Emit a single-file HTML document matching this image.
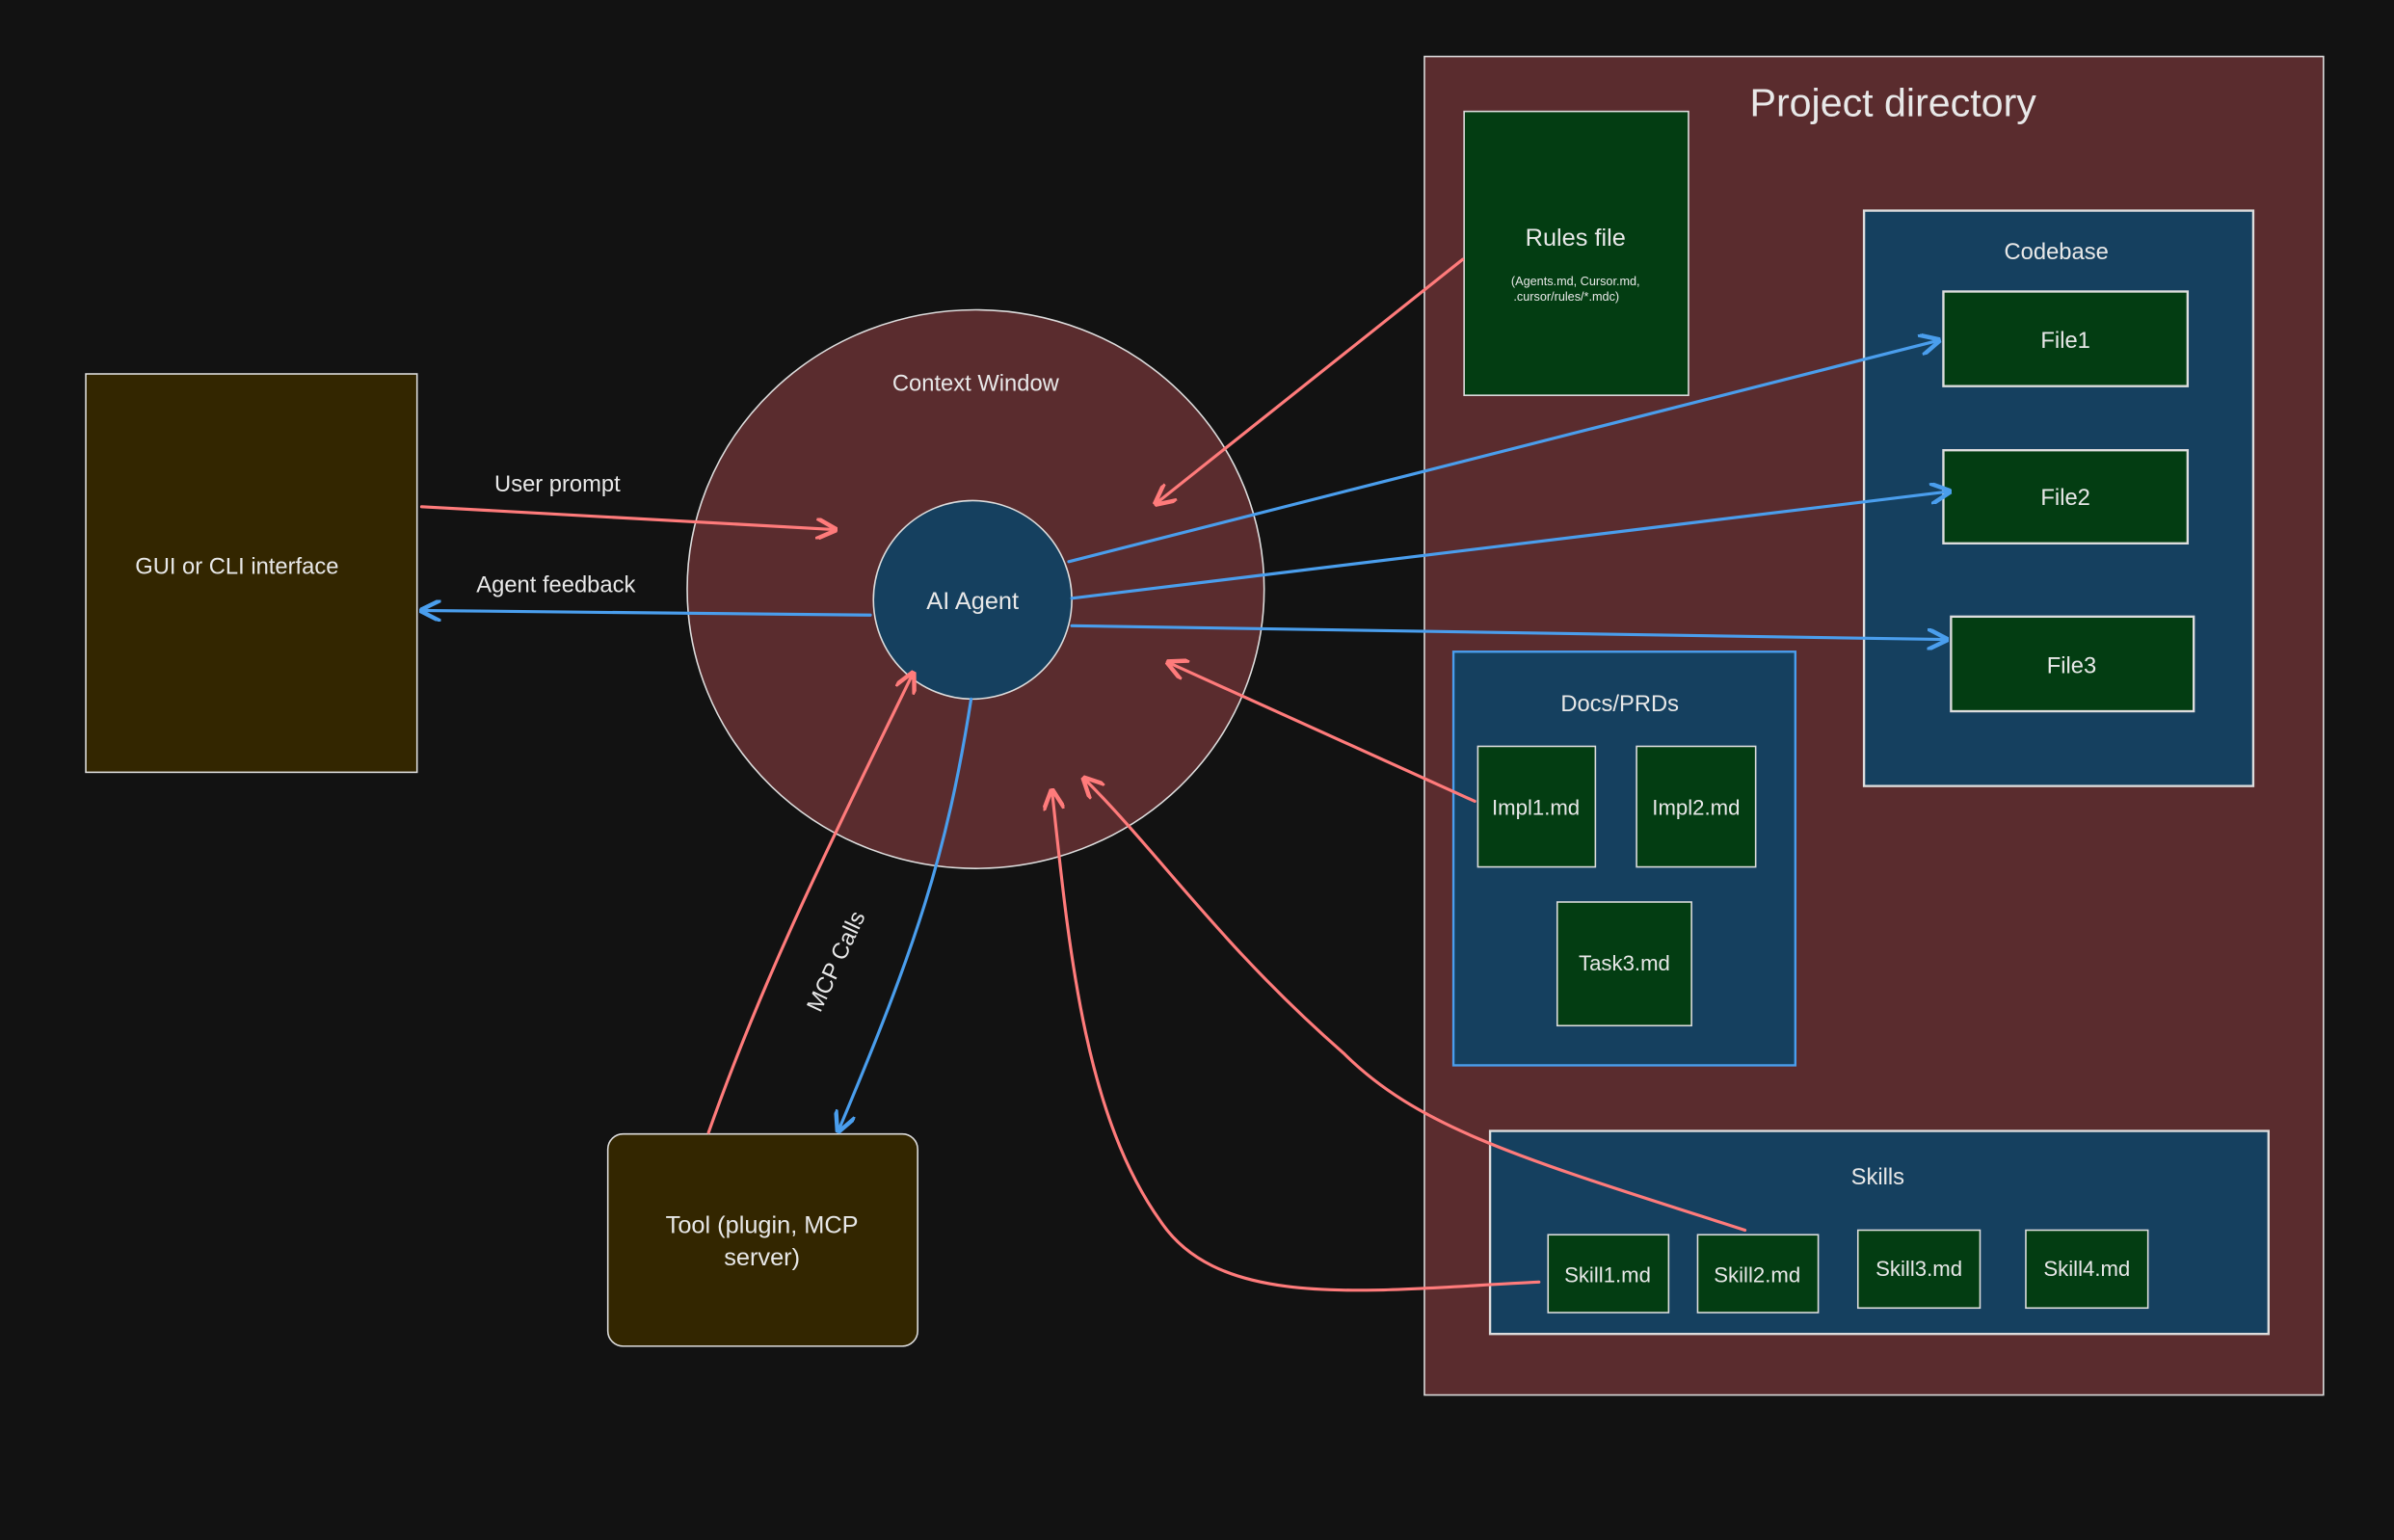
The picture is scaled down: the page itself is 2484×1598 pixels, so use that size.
<!DOCTYPE html>
<html><head><meta charset="utf-8"><style>
html,body{margin:0;padding:0;background:#121212;}
svg{display:block}
text{font-family:"Liberation Sans",sans-serif;fill:#e8e8e8;text-anchor:middle;}
</style></head><body>
<svg width="2484" height="1598" viewBox="0 0 1568 1009" xmlns="http://www.w3.org/2000/svg">
<defs>
<marker id="ar" viewBox="0 0 10 10" refX="9" refY="5" markerWidth="7" markerHeight="7" orient="auto-start-reverse"><path d="M0,0 L10,5 L0,10" fill="none" stroke="#ff7b7b" stroke-width="2"/></marker>
<marker id="ab" viewBox="0 0 10 10" refX="9" refY="5" markerWidth="7" markerHeight="7" orient="auto-start-reverse"><path d="M0,0 L10,5 L0,10" fill="none" stroke="#4a9eed" stroke-width="2"/></marker>
</defs>
<rect width="1568" height="1009" fill="#121212"/>
<!-- Project directory -->
<rect x="933" y="37" width="589" height="877" fill="#5a2c2e" stroke="#ddd" stroke-width="1"/>
<text x="1240" y="76" font-size="26">Project directory</text>
<rect x="959" y="73" width="147" height="186" fill="#033d12" stroke="#ddd" stroke-width="1"/>
<text x="1032" y="161" font-size="16">Rules file</text>
<text x="1032" y="187" font-size="8">(Agents.md, Cursor.md,</text>
<text x="1026" y="197" font-size="8">.cursor/rules/*.mdc)</text>
<rect x="1221" y="138" width="255" height="377" fill="#15405f" stroke="#ddd" stroke-width="1.5"/>
<text x="1347" y="170" font-size="15">Codebase</text>
<rect x="1273" y="191" width="160" height="62" fill="#033d12" stroke="#ddd" stroke-width="1.5"/>
<text x="1353" y="228" font-size="15">File1</text>
<rect x="1273" y="295" width="160" height="61" fill="#033d12" stroke="#ddd" stroke-width="1.5"/>
<text x="1353" y="331" font-size="15">File2</text>
<rect x="1278" y="404" width="159" height="62" fill="#033d12" stroke="#ddd" stroke-width="1.5"/>
<text x="1357" y="441" font-size="15">File3</text>
<rect x="952" y="427" width="224" height="271" fill="#15405f" stroke="#4a9eed" stroke-width="1.5"/>
<text x="1061" y="466" font-size="15">Docs/PRDs</text>
<rect x="968" y="489" width="77" height="79" fill="#033d12" stroke="#ddd" stroke-width="1"/>
<text x="1006" y="534" font-size="14">Impl1.md</text>
<rect x="1072" y="489" width="78" height="79" fill="#033d12" stroke="#ddd" stroke-width="1"/>
<text x="1111" y="534" font-size="14">Impl2.md</text>
<rect x="1020" y="591" width="88" height="81" fill="#033d12" stroke="#ddd" stroke-width="1"/>
<text x="1064" y="636" font-size="14">Task3.md</text>
<rect x="976" y="741" width="510" height="133" fill="#15405f" stroke="#ddd" stroke-width="1.5"/>
<text x="1230" y="776" font-size="15">Skills</text>
<rect x="1014" y="809" width="79" height="51" fill="#033d12" stroke="#ddd" stroke-width="1"/>
<text x="1053" y="840" font-size="14">Skill1.md</text>
<rect x="1112" y="809" width="79" height="51" fill="#033d12" stroke="#ddd" stroke-width="1"/>
<text x="1151" y="840" font-size="14">Skill2.md</text>
<rect x="1217" y="806" width="80" height="51" fill="#033d12" stroke="#ddd" stroke-width="1"/>
<text x="1257" y="836" font-size="14">Skill3.md</text>
<rect x="1327" y="806" width="80" height="51" fill="#033d12" stroke="#ddd" stroke-width="1"/>
<text x="1367" y="836" font-size="14">Skill4.md</text>
<!-- GUI -->
<rect x="56" y="245" width="217" height="261" fill="#332600" stroke="#ddd" stroke-width="1"/>
<text x="155" y="376" font-size="15">GUI or CLI interface</text>
<!-- Tool -->
<rect x="398" y="743" width="203" height="139" rx="10" fill="#332600" stroke="#ddd" stroke-width="1"/>
<text x="499" y="808" font-size="16">Tool (plugin, MCP</text>
<text x="499" y="829" font-size="16">server)</text>
<!-- Context window -->
<ellipse cx="639" cy="386" rx="189" ry="183" fill="#5a2c2e" stroke="#ddd" stroke-width="1"/>
<text x="639" y="256" font-size="15">Context Window</text>
<circle cx="637" cy="393" r="65" fill="#15405f" stroke="#ddd" stroke-width="1"/>
<text x="637" y="399" font-size="16">AI Agent</text>
<!-- arrows -->
<g fill="none" stroke-width="2" stroke-linecap="round">
<path d="M276,332 L547,347" stroke="#ff7b7b" marker-end="url(#ar)"/>
<path d="M570,403 L276,400" stroke="#4a9eed" marker-end="url(#ab)"/>
<path d="M958,170 L757,330" stroke="#ff7b7b" marker-end="url(#ar)"/>
<path d="M700,368 L1270,223" stroke="#4a9eed" marker-end="url(#ab)"/>
<path d="M702,392 L1277,322" stroke="#4a9eed" marker-end="url(#ab)"/>
<path d="M702,410 L1275,419" stroke="#4a9eed" marker-end="url(#ab)"/>
<path d="M966,525 L765,434" stroke="#ff7b7b" marker-end="url(#ar)"/>
<path d="M1143,806 C1000,760 930,740 880,690 C800,620 760,560 710,510" stroke="#ff7b7b" marker-end="url(#ar)"/>
<path d="M1008,840 C900,845 800,860 760,800 C710,730 700,620 689,518" stroke="#ff7b7b" marker-end="url(#ar)"/>
<path d="M464,742 C500,640 540,560 598,441" stroke="#ff7b7b" marker-end="url(#ar)"/>
<path d="M636,458 C620,560 600,620 549,741" stroke="#4a9eed" marker-end="url(#ab)"/>
</g>
<text x="365" y="322" font-size="15">User prompt</text>
<text x="364" y="388" font-size="15">Agent feedback</text>
<text x="552" y="632" font-size="15" transform="rotate(-65 552 632)">MCP Calls</text>
</svg>
</body></html>
